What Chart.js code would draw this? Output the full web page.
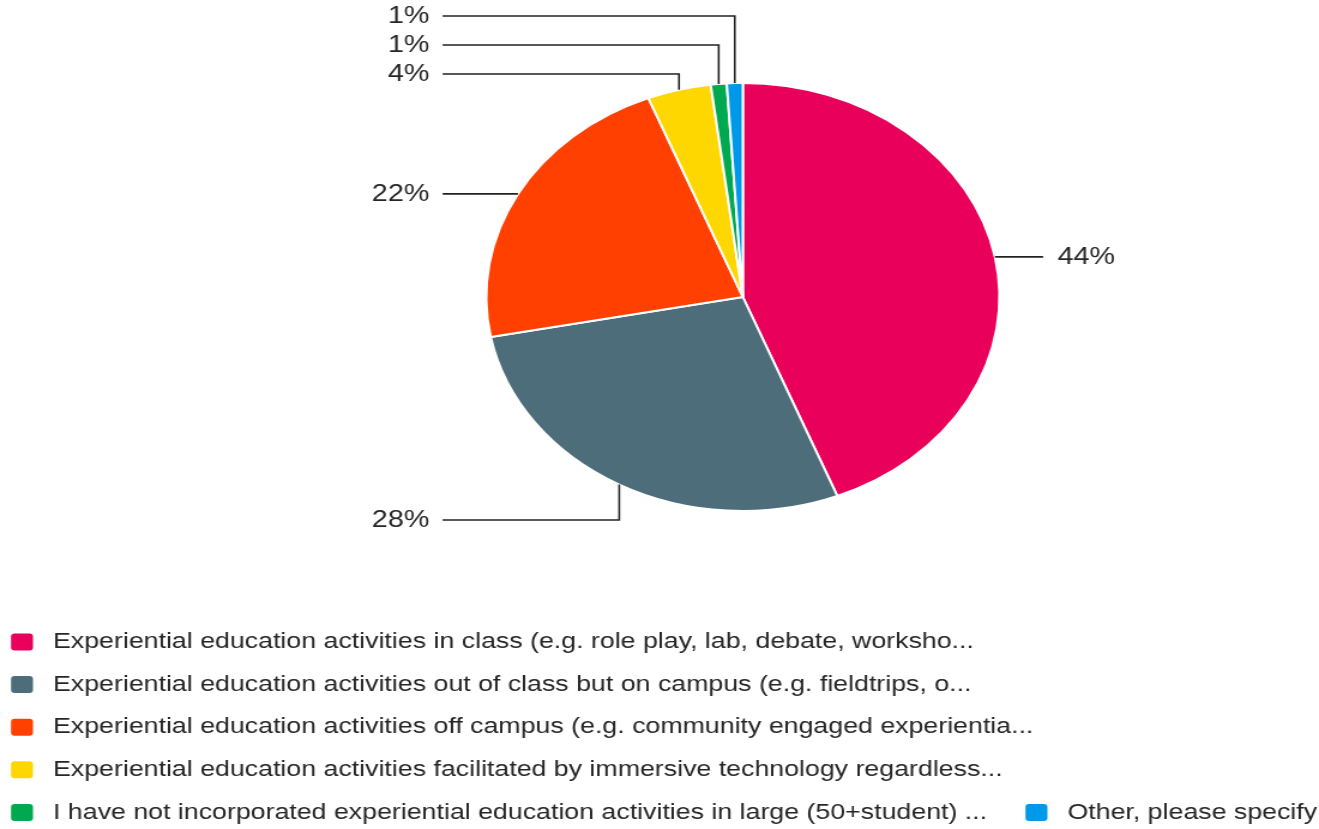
<!DOCTYPE html>
<html>
<head>
<meta charset="utf-8">
<script src="https://cdn.jsdelivr.net/npm/chart.js@4/dist/chart.umd.min.js"></script>
<style>
  html, body { margin: 0; padding: 0; background: #fff; overflow: hidden; }
  #wrap { width: 1100px; height: 829px; transform: scaleX(1.1991); transform-origin: 0 0; }
</style>
</head>
<body>
<div id="wrap"><canvas id="pie" width="1100" height="829"></canvas></div>
<script>
const labels = [
  "Experiential education activities in class (e.g. role play, lab, debate, worksho...",
  "Experiential education activities out of class but on campus (e.g. fieldtrips, o...",
  "Experiential education activities off campus (e.g. community engaged experientia...",
  "Experiential education activities facilitated by immersive technology regardless...",
  "I have not incorporated experiential education activities in large (50+student) ...",
  "Other, please specify:"
];
const shares = [44, 28, 22, 4, 1, 1];
const colors = ["#E8005B", "#4E6D7A", "#FF4000", "#FFD700", "#00A84F", "#0098E8"];

const fontFamily = '"Liberation Sans", Arial, Helvetica, sans-serif';
const textColor = "#262626";

// percentage labels with leader lines, placed from the arc geometry
const leaderLabels = {
  id: "leaderLabels",
  afterDraw(chart) {
    const ctx = chart.ctx;
    const arcs = chart.getDatasetMeta(0).data;
    const values = chart.data.datasets[0].data;
    const total = values.reduce(function (a, b) { return a + b; }, 0);
    const left = [], right = [];

    arcs.forEach(function (arc, i) {
      const p = arc.getProps(["x", "y", "startAngle", "endAngle", "outerRadius"], true);
      const mid = (p.startAngle + p.endAngle) / 2;
      const ex = p.x + p.outerRadius * Math.cos(mid);
      const ey = p.y + p.outerRadius * Math.sin(mid);
      const vertical = Math.abs(Math.sin(mid)) > 0.7;
      let ly = ey;
      if (vertical) ly = p.y + Math.sign(Math.sin(mid)) * (p.outerRadius + 9);
      const item = {
        ex: ex, ey: ey, ly: ly, vertical: vertical, cx: p.x, r: p.outerRadius,
        text: Math.round(values[i] / total * 100) + "%"
      };
      if (Math.cos(mid) >= 0) right.push(item); else left.push(item);
    });

    const gap = 29;
    for (let i = 1; i < left.length; i++) {
      left[i].ly = Math.min(left[i].ly, left[i - 1].ly - gap);
    }
    for (let i = 1; i < right.length; i++) {
      right[i].ly = Math.max(right[i].ly, right[i - 1].ly + gap);
    }

    ctx.save();
    ctx.strokeStyle = "#222222";
    ctx.lineWidth = 1.6;
    ctx.fillStyle = textColor;
    ctx.font = "24px " + fontFamily;
    ctx.textBaseline = "middle";
    left.concat(right).forEach(function (it) {
      const isRight = it.ex >= it.cx;
      const endX = it.cx + (isRight ? 1 : -1) * it.r * 1.17;
      ctx.beginPath();
      ctx.moveTo(it.ex, it.ey);
      if (it.vertical) ctx.lineTo(it.ex, it.ly);
      ctx.lineTo(endX, it.ly);
      ctx.stroke();
      ctx.textAlign = isRight ? "left" : "right";
      ctx.fillText(it.text, endX + (isRight ? 12 : -11), it.ly);
    });
    ctx.restore();
  }
};

// legend laid out in rows like the original, may run past the right edge
const legendRows = {
  id: "legendRows",
  afterDraw(chart) {
    const ctx = chart.ctx;
    const ds = chart.data.datasets[0];
    const startX = 9.2;
    const textOffset = 35;
    const maxWidth = chart.width * 1.04;
    let x = startX, y = 642;
    ctx.save();
    ctx.font = "22.3px " + fontFamily;
    ctx.textBaseline = "middle";
    ctx.textAlign = "left";
    chart.data.labels.forEach(function (label, i) {
      const w = textOffset + ctx.measureText(label).width;
      if (x > startX && x + w > maxWidth) {
        x = startX;
        y += 42.6;
      }
      ctx.fillStyle = ds.backgroundColor[i];
      ctx.beginPath();
      if (ctx.roundRect) ctx.roundRect(x, y - 8.5, 18.3, 17, 3);
      else ctx.rect(x, y - 8.5, 18.3, 17);
      ctx.fill();
      ctx.fillStyle = textColor;
      ctx.fillText(label, x + textOffset, y);
      x += w + 32;
    });
    ctx.restore();
  }
};

Chart.defaults.font.family = fontFamily;

new Chart(document.getElementById("pie").getContext("2d"), {
  type: "pie",
  data: {
    labels: labels,
    datasets: [
      {
        data: shares,
        backgroundColor: colors,
        borderColor: "#ffffff",
        borderWidth: 2,
        hoverOffset: 0,
      },
    ],
  },
  options: {
    responsive: false,
    animation: false,
    layout: { padding: { top: 82, bottom: 317, left: 139, right: 0 } },
    plugins: {
      legend: { display: false },
      tooltip: { enabled: false },
    },
  },
  plugins: [leaderLabels, legendRows],
});
</script>
</body>
</html>
